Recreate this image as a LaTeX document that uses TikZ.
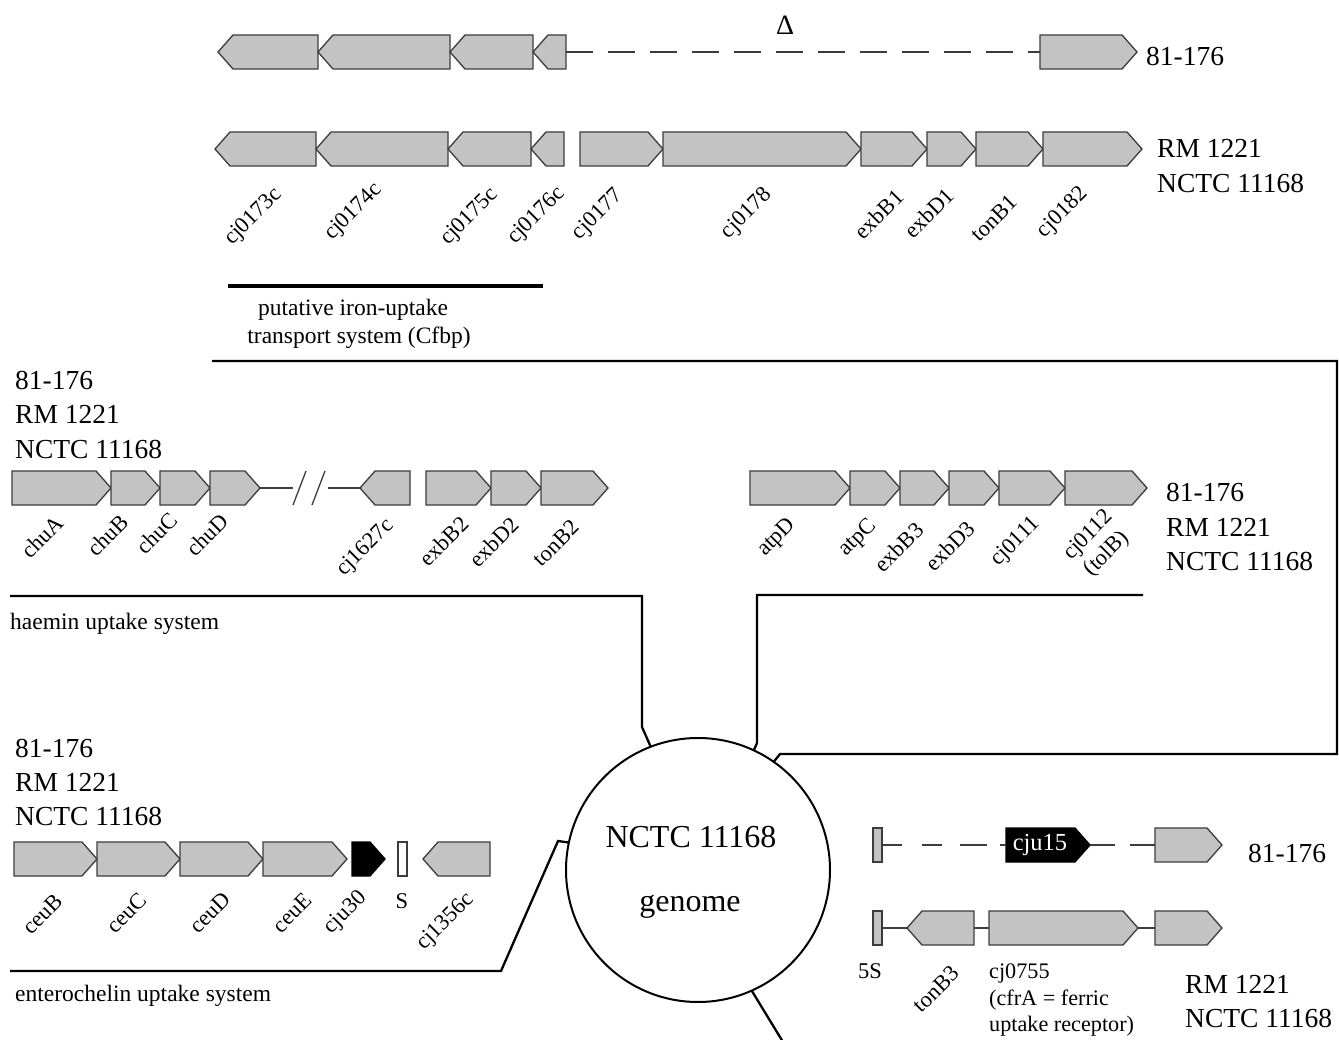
\documentclass[tikz,border=0pt]{standalone}
\usepackage{fontspec}
\setmainfont{Liberation Serif}
\definecolor{gfill}{RGB}{195,195,195}
\definecolor{gline}{RGB}{60,60,60}
\tikzset{
 gene/.style={draw=gline, fill=gfill, line width=1.3pt, line join=miter},
 blackgene/.style={draw=black, fill=black},
 link/.style={draw=gline, line width=1.3pt},
 conn/.style={draw=black, line width=2.3pt, line join=miter},
 strain/.style={font=\fontsize{27.5}{33}\selectfont, anchor=base west, inner sep=0pt},
 glabel/.style={font=\fontsize{22.5}{26}\selectfont, rotate=45, inner sep=0pt, anchor=center},
 caption/.style={font=\fontsize{23.5}{28}\selectfont, inner sep=0pt},
 smallcap/.style={font=\fontsize{22.2}{26}\selectfont, inner sep=0pt, anchor=base west},
}
% right-pointing gene: [style]{name}{x1}{x2}{yc}
\newcommand\geneR[5][]{%
 \draw[gene,#1] (#3,#5-17) -- (#4-15,#5-17) -- (#4,#5) -- (#4-15,#5+17) -- (#3,#5+17) -- cycle;
 \coordinate (#2-w) at (#3,#5); \coordinate (#2-e) at (#4,#5);}
% left-pointing gene: [style]{name}{x1 (tip)}{x2}{yc}
\newcommand\geneL[5][]{%
 \draw[gene,#1] (#3,#5) -- (#3+15,#5-17) -- (#4,#5-17) -- (#4,#5+17) -- (#3+15,#5+17) -- cycle;
 \coordinate (#2-w) at (#3,#5); \coordinate (#2-e) at (#4,#5);}
\newcommand\geneBox[5][]{%
 \draw[gene,#1] (#3,#5-17) rectangle (#4,#5+17);
 \coordinate (#2-w) at (#3,#5); \coordinate (#2-e) at (#4,#5);}
\begin{document}
\begin{tikzpicture}[x=1pt,y=-1pt]
\useasboundingbox (0,0) rectangle (1339,1040);
\fill[white] (0,0) rectangle (1339,1040);

% ---------- top section ----------
\geneL{a1}{218}{318}{52}
\geneL{a2}{318}{450}{52}
\geneL{a3}{450}{533}{52}
\geneL{a4}{533}{566}{52}
\geneR{a5}{1040}{1137}{52}
\draw[link, dash pattern=on 27pt off 15pt] (a4-e) -- (a5-w);
\node[font=\fontsize{28}{32}\selectfont, inner sep=0pt] (delta) at (785,25) {Δ};
\node[strain] (s1) at (1146,66) {81-176};

\geneL{b1}{215}{316}{149}
\geneL{b2}{316}{448}{149}
\geneL{b3}{448}{531}{149}
\geneL{b4}{531}{564}{149}
\geneR{b5}{580}{663}{149}
\geneR{b6}{663}{861}{149}
\geneR{b7}{861}{927}{149}
\geneR{b8}{927}{976}{149}
\geneR{b9}{976}{1043}{149}
\geneR{b10}{1043}{1142}{149}
\node[strain] (s2) at (1157,158) {RM 1221};
\node[strain] (s3) at (1157,193) {NCTC 11168};

\node[glabel] (l1) at (254,217) {cj0173c};
\node[glabel] (l2) at (354,212) {cj0174c};
\node[glabel] (l3) at (470,217) {cj0175c};
\node[glabel] (l4) at (537,216) {cj0176c};
\node[glabel] (l5) at (598,215) {cj0177};
\node[glabel] (l6) at (747,214) {cj0178};
\node[glabel] (l7) at (879,214) {exbB1};
\node[glabel] (l8) at (929,213) {exbD1};
\node[glabel] (l9) at (994,218) {tonB1};
\node[glabel] (l10) at (1063,213) {cj0182};

\draw[line width=3.5pt] (228,286) coordinate (bar1) -- (543,286) coordinate (bar2);
\node[caption, anchor=base] (cf1) at (353,316) {putative iron-uptake};
\node[caption, anchor=base] (cf2) at (359,344) {transport system (Cfbp)};

% ---------- middle left ----------
\node[strain] (s4) at (15,390) {81-176};
\node[strain] (s5) at (15,424) {RM 1221};
\node[strain] (s6) at (15,458) {NCTC 11168};
\geneR{c1}{12}{111}{488}
\geneR{c2}{111}{160}{488}
\geneR{c3}{160}{210}{488}
\geneR{c4}{210}{260}{488}
\geneL{c5}{360}{410}{488}
\geneR{c6}{426}{491}{488}
\geneR{c7}{491}{541}{488}
\geneR{c8}{541}{608}{488}
\coordinate (brk1) at (293,488);
\coordinate (brk2) at (328,488);
\draw[link] (c4-e) -- (brk1);
\draw[link] (brk2) -- (c5-w);
\draw[link] (293,505) -- (306,471);
\draw[link] (312,505) -- (325,471);

\node[glabel] (m1) at (42,537) {chuA};
\node[glabel] (m2) at (108,535) {chuB};
\node[glabel] (m3) at (157,533) {chuC};
\node[glabel] (m4) at (207,535) {chuD};
\node[glabel] (m5) at (366,548) {cj1627c};
\node[glabel] (m6) at (444,541) {exbB2};
\node[glabel] (m7) at (494,542) {exbD2};
\node[glabel] (m8) at (556,543) {tonB2};
\node[caption, anchor=base west] (hc) at (10,629) {haemin uptake system};

% ---------- middle right ----------
\geneR{d1}{750}{850}{488}
\geneR{d2}{850}{900}{488}
\geneR{d3}{900}{949}{488}
\geneR{d4}{949}{999}{488}
\geneR{d5}{999}{1065}{488}
\geneR{d6}{1065}{1147}{488}
\node[strain] (s7) at (1166,501) {81-176};
\node[strain] (s8) at (1166,536) {RM 1221};
\node[strain] (s9) at (1166,570) {NCTC 11168};
\node[glabel] (n1) at (777,538) {atpD};
\node[glabel] (n2) at (858,538) {atpC};
\node[glabel] (n3) at (899,547) {exbB3};
\node[glabel] (n4) at (950,546) {exbD3};
\node[glabel] (n5) at (1016,542) {cj0111};
\node[glabel, align=center] (n6) at (1098,545) {cj0112\\(tolB)};

% ---------- bottom left ----------
\node[strain] (s10) at (15,757) {81-176};
\node[strain] (s11) at (15,791) {RM 1221};
\node[strain] (s12) at (15,825) {NCTC 11168};
\geneR{e1}{14}{97}{859}
\geneR{e2}{97}{180}{859}
\geneR{e3}{180}{263}{859}
\geneR{e4}{263}{347}{859}
\geneR[blackgene]{e5}{352}{385}{859}
\geneBox[fill=white]{eS}{398}{407}{859}
\geneL{e6}{423}{490}{859}
\node[glabel] (o1) at (43,914) {ceuB};
\node[glabel] (o2) at (127,913) {ceuC};
\node[glabel] (o3) at (210,913) {ceuD};
\node[glabel] (o4) at (292,913) {ceuE};
\node[glabel] (o5) at (346,913) {cju30};
\node[font=\fontsize{22.5}{26}\selectfont, inner sep=0pt, anchor=base] (o6) at (402,908) {S};
\node[glabel] (o7) at (446,922) {cj1356c};
\node[caption, anchor=base west] (ec) at (15,1001) {enterochelin uptake system};

% ---------- bottom right ----------
\geneBox{f0}{873}{882}{845}
\geneR[blackgene]{f1}{1006}{1090}{845}
\node[font=\fontsize{24.5}{28}\selectfont, text=white, inner sep=0pt] (cju) at (1040,845) {cju15};
\geneR{f2}{1155}{1222}{845}
\draw[link] (f0-e) -- ++(20,0);
\draw[link] (922,845) -- (942,845);
\draw[link] (960,845) -- (987,845);
\draw[link] (1000,845) -- (f1-w);
\draw[link] (f1-e) -- ++(25,0);
\draw[link] (1130,845) -- (f2-w);
\node[strain] (s13) at (1248,862) {81-176};

\geneBox{g0}{873}{882}{928}
\geneL{g1}{907}{974}{928}
\geneR{g2}{989}{1138}{928}
\geneR{g3}{1155}{1222}{928}
\draw[link] (g0-e) -- (g1-w);
\draw[link] (g1-e) -- (g2-w);
\draw[link] (g2-e) -- (g3-w);
\node[font=\fontsize{22.5}{26}\selectfont, inner sep=0pt, anchor=base] (p1) at (870,978) {5S};
\node[glabel] (p2) at (936,989) {tonB3};
\node[smallcap] (p3) at (989,978) {cj0755};
\node[smallcap] (p4) at (989,1005) {(cfrA = ferric};
\node[smallcap] (p5) at (989,1031) {uptake receptor)};
\node[strain] (s14) at (1185,993) {RM 1221};
\node[strain] (s15) at (1185,1027) {NCTC 11168};

% ---------- genome circle and connectors ----------
\node[circle, draw, line width=2pt, minimum size=264pt, inner sep=0pt, outer sep=0pt] (genome) at (698,870) {};
\node[font=\fontsize{32}{38}\selectfont, inner sep=0pt, anchor=base] (gt1) at (691,847) {NCTC 11168};
\node[font=\fontsize{32}{38}\selectfont, inner sep=0pt, anchor=base] (gt2) at (690,911) {genome};

\coordinate (k1) at (212,361);
\draw[conn] (k1) -- (1337,361) -- (1337,754) -- (780,754) -- (genome.55);
\coordinate (k2) at (10,596);
\draw[conn] (k2) -- (642,596) -- (642,727) -- (genome.111);
\coordinate (k3) at (1143,595);
\draw[conn] (k3) -- (757,595) -- (757,743) -- (genome.65);
\coordinate (k4) at (10,971);
\draw[conn] (k4) -- (501,971) -- (558,841) -- (genome.168);
\coordinate (k5) at (783,1042);
\draw[conn] (genome.-66) -- (k5);
\end{tikzpicture}
\end{document}
